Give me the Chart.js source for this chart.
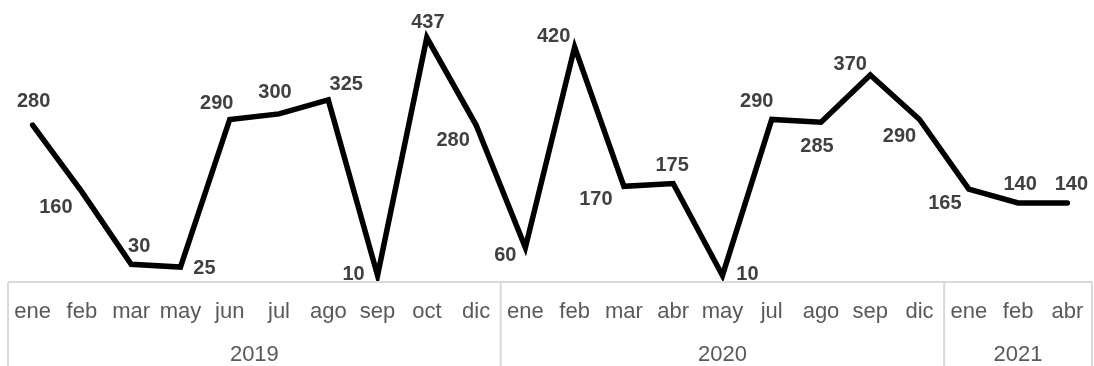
<!DOCTYPE html>
<html>
<head>
<meta charset="utf-8">
<script src="https://cdn.jsdelivr.net/npm/chart.js@4/dist/chart.umd.min.js"></script>
<style>
  html, body { margin: 0; padding: 0; background: #fff; }
  #wrap { position: relative; width: 1094px; height: 366px; }
</style>
</head>
<body>
<div id="wrap"><canvas id="myChart"></canvas></div>
<script>
// months shown under each point, grouped by year
const months = ['ene', 'feb', 'mar', 'may', 'jun', 'jul', 'ago', 'sep', 'oct', 'dic',
                'ene', 'feb', 'mar', 'abr', 'may', 'jul', 'ago', 'sep', 'dic',
                'ene', 'feb', 'abr'];
const years = ['2019', '2020', '2021'];
const monthsPerYear = [10, 9, 3];
const values = [280, 160, 30, 25, 290, 300, 325, 10, 437, 280, 60,
                420, 170, 175, 10, 290, 285, 370, 290, 165, 140, 140];

// where each value label sits relative to its point [dx, dy]
const labelOffsets = [
  [1, -25], [-26, 14], [8, -19], [24, 0], [-13, -17], [-4, -23], [18, -17],
  [-24, -2], [1, -17], [-23, 14], [-20, 6], [-21, -12], [-28, 12], [-1, -20],
  [25, -2], [-15, -19], [-4, 23], [-20, -12], [-20, 16], [-24, 13], [2, -20], [4, -20]
];

// value labels next to each point
const pointLabels = {
  id: 'pointLabels',
  afterDatasetsDraw(chart) {
    const ctx = chart.ctx;
    const meta = chart.getDatasetMeta(0);
    ctx.save();
    ctx.font = 'bold 20px "Liberation Sans", Arial, sans-serif';
    ctx.fillStyle = '#404040';
    ctx.textAlign = 'center';
    ctx.textBaseline = 'alphabetic';
    meta.data.forEach((pt, i) => {
      const off = labelOffsets[i];
      // digits are ~0.72em tall, so the baseline sits half of that below the centre
      ctx.fillText(String(values[i]), pt.x + off[0], pt.y + off[1] + 7);
    });
    ctx.restore();
  }
};

// two-level category axis: months on top row, years below, boxed per year
const groupedAxis = {
  id: 'groupedAxis',
  afterDraw(chart) {
    const ctx = chart.ctx;
    const xs = chart.scales.x;
    const area = chart.chartArea;
    const half = (xs.getPixelForValue(1) - xs.getPixelForValue(0)) / 2;
    const top = area.bottom + 1;
    const bottom = chart.height;

    const edges = [xs.getPixelForValue(0) - half];
    let start = 0;
    monthsPerYear.forEach(n => {
      start += n;
      edges.push(xs.getPixelForValue(start - 1) + half);
    });

    ctx.save();
    ctx.strokeStyle = '#d9d9d9';
    ctx.lineWidth = 2;
    ctx.beginPath();
    ctx.moveTo(edges[0], top);
    ctx.lineTo(edges[edges.length - 1], top);
    edges.forEach(x => {
      ctx.moveTo(x, top);
      ctx.lineTo(x, bottom);
    });
    ctx.stroke();

    ctx.fillStyle = '#595959';
    ctx.font = '22px "Liberation Sans", Arial, sans-serif';
    ctx.textAlign = 'center';
    ctx.textBaseline = 'alphabetic';
    months.forEach((m, i) => {
      ctx.fillText(m, xs.getPixelForValue(i), top + 36);
    });
    years.forEach((y, k) => {
      ctx.fillText(y, (edges[k] + edges[k + 1]) / 2, top + 79);
    });
    ctx.restore();
  }
};

new Chart(document.getElementById('myChart'), {
  type: 'line',
  data: {
    labels: months.map((m, i) => i),
    datasets: [{
      data: values,
      borderColor: '#000',
      borderWidth: 5.5,
      borderCapStyle: 'round',
      borderJoinStyle: 'miter',
      pointRadius: 0,
      tension: 0,
      fill: false
    }]
  },
  options: {
    responsive: true,
    maintainAspectRatio: false,
    animation: false,
    layout: { padding: { left: 8, right: 2, top: 2.5, bottom: 85 } },
    plugins: {
      legend: { display: false },
      tooltip: { enabled: false }
    },
    scales: {
      x: { display: false, offset: true },
      y: { display: false, min: 0, max: 500 }
    }
  },
  plugins: [pointLabels, groupedAxis]
});
</script>
</body>
</html>
